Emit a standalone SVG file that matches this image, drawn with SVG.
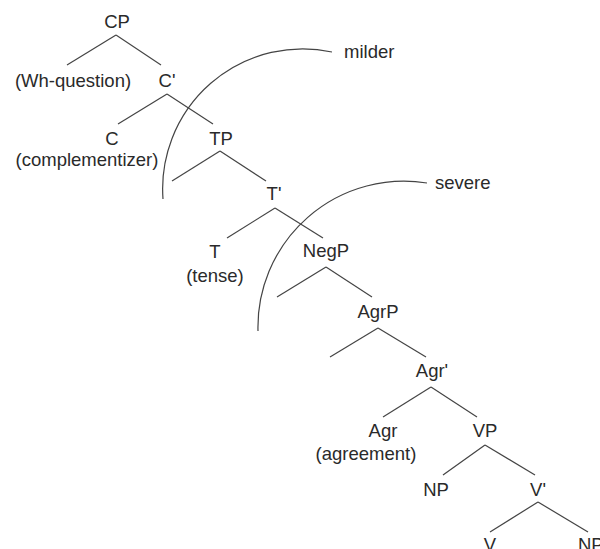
<svg xmlns="http://www.w3.org/2000/svg" width="600" height="549" viewBox="0 0 600 549">
<style>
text{font-family:"Liberation Sans",Arial,sans-serif;font-size:18.5px;fill:#2a2a2a;text-anchor:middle}
.e line{stroke:#444;stroke-width:1.2}
.arc{fill:none;stroke:#444;stroke-width:1.2}
</style>
<rect width="600" height="549" fill="#fff"/>
<g id="connectors" class="e">
<line x1="116" y1="35" x2="67" y2="65"/><line x1="116" y1="35" x2="161" y2="65"/>
<line x1="167" y1="94" x2="118" y2="124"/><line x1="167" y1="94" x2="213" y2="124"/>
<line x1="220" y1="151" x2="172" y2="181"/><line x1="220" y1="151" x2="266" y2="181"/>
<line x1="275" y1="208" x2="227" y2="238"/><line x1="275" y1="208" x2="323" y2="238"/>
<line x1="326" y1="267" x2="277" y2="297"/><line x1="326" y1="267" x2="372" y2="297"/>
<line x1="378" y1="328" x2="330" y2="357"/><line x1="378" y1="328" x2="426" y2="357"/>
<line x1="431" y1="387" x2="383" y2="417"/><line x1="431" y1="387" x2="477" y2="417"/>
<line x1="485" y1="445" x2="443" y2="475"/><line x1="485" y1="445" x2="535" y2="475"/>
<line x1="538" y1="502" x2="490" y2="532"/><line x1="538" y1="502" x2="588" y2="532"/>
</g>
<g id="arcs">
<path class="arc" d="M163,199 A140,140 0 0 1 332,52"/>
<path class="arc" d="M258,331 A146,146 0 0 1 427,183"/>
</g>
<g id="CP"><text x="117" y="28">CP</text></g>
<g id="Wh"><text x="73" y="87">(Wh-question)</text></g>
<g id="Cbar"><text x="167" y="87">C'</text></g>
<g id="C"><text x="112" y="145">C</text><text x="87" y="166">(complementizer)</text></g>
<g id="TP"><text x="221" y="145">TP</text></g>
<g id="Tbar"><text x="274" y="200">T'</text></g>
<g id="T"><text x="215" y="258">T</text><text x="215" y="282">(tense)</text></g>
<g id="NegP"><text x="326" y="257">NegP</text></g>
<g id="AgrP"><text x="378" y="318">AgrP</text></g>
<g id="Agrbar"><text x="432" y="377">Agr'</text></g>
<g id="Agr"><text x="383" y="437">Agr</text><text x="366" y="460">(agreement)</text></g>
<g id="VP"><text x="485" y="437">VP</text></g>
<g id="NP1"><text x="436" y="496">NP</text></g>
<g id="Vbar"><text x="538" y="496">V'</text></g>
<g id="V"><text x="490" y="551">V</text></g>
<g id="NP2"><text x="578" y="551" style="text-anchor:start">NP</text></g>
<g id="milder"><text x="344" y="58" style="text-anchor:start">milder</text></g>
<g id="severe"><text x="435" y="189" style="text-anchor:start">severe</text></g>
</svg>
